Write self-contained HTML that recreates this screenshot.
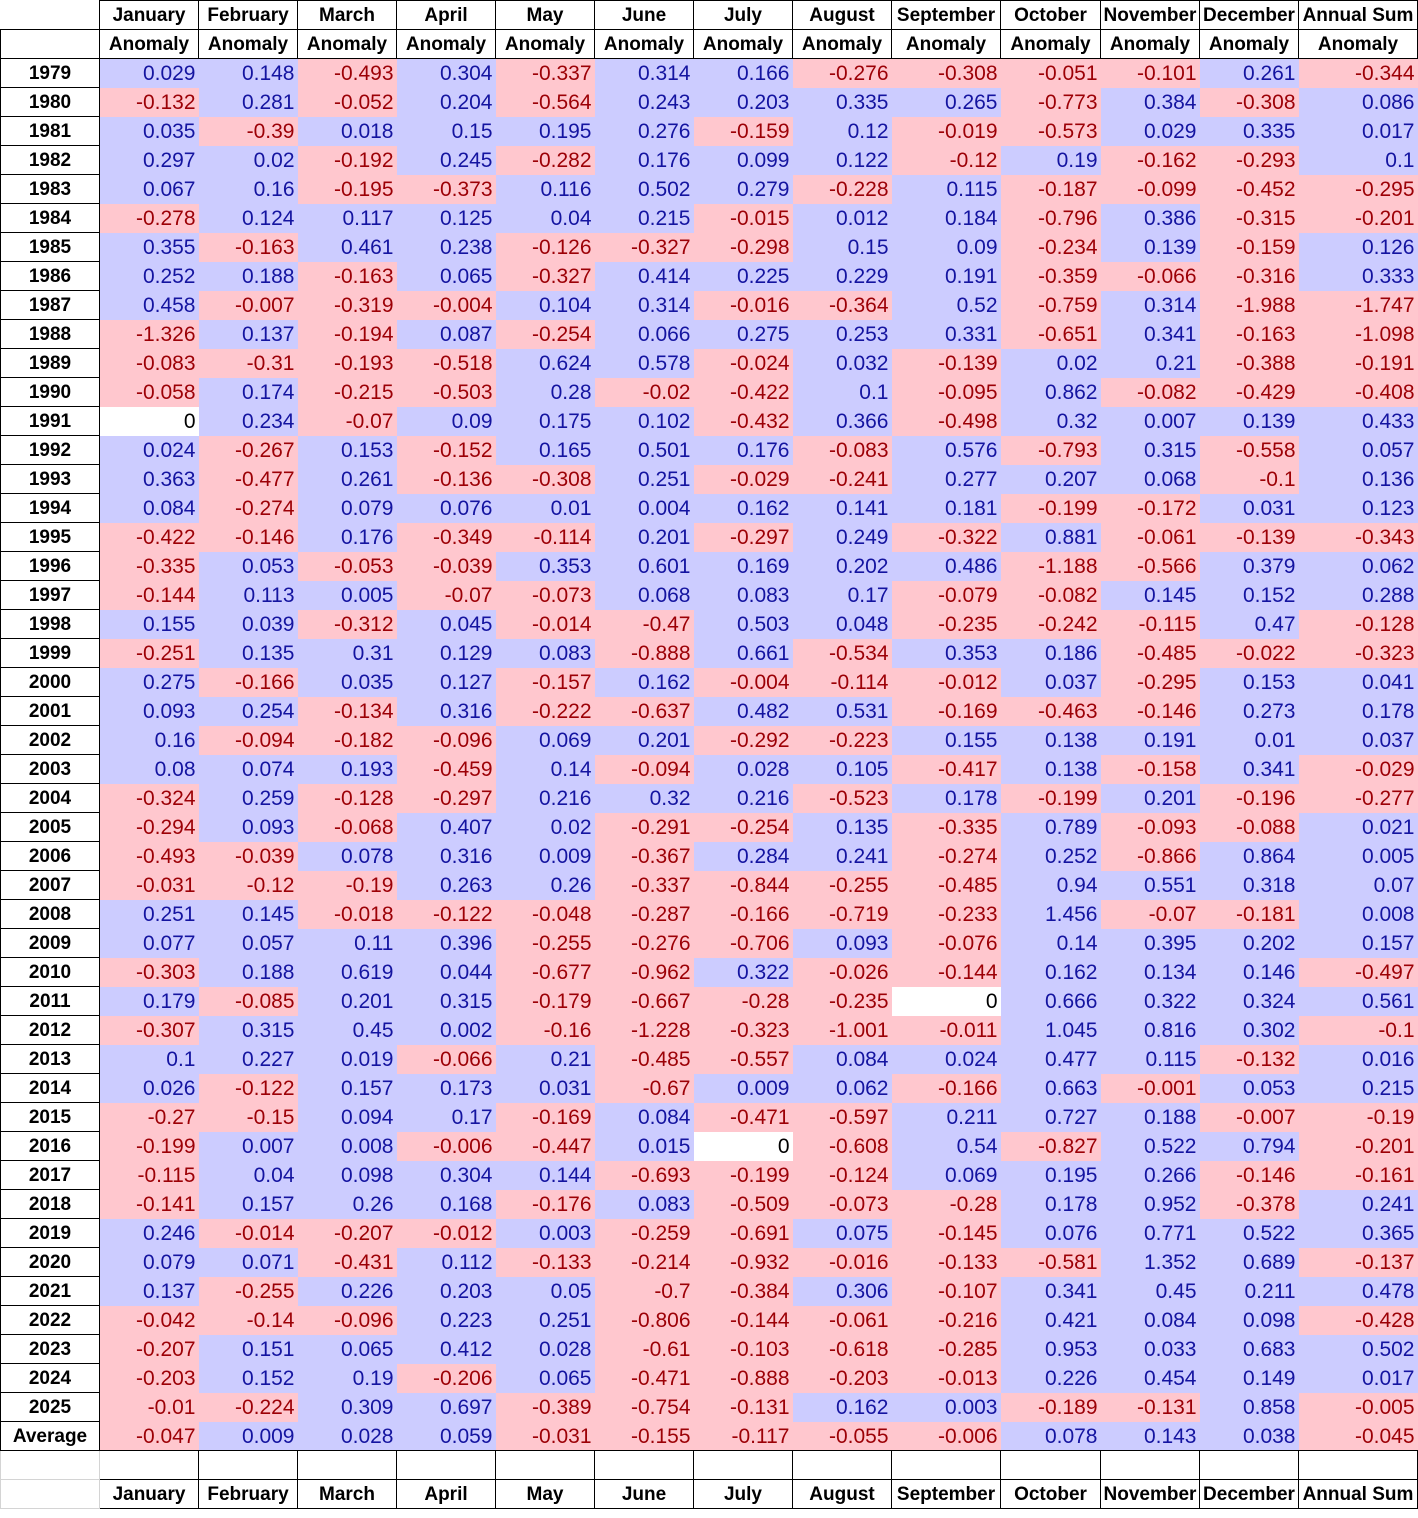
<!DOCTYPE html>
<html><head><meta charset="utf-8"><style>
html,body{margin:0;padding:0;background:#fff;width:1418px;height:1518px;overflow:hidden}
table{border-collapse:collapse;table-layout:fixed;width:1417px;font-family:"Liberation Sans",Arial,sans-serif}
tr{height:29px}
td{padding:2px 3px 0 0;height:26px;text-align:right;font-size:21px;line-height:26px;white-space:nowrap;overflow:hidden}
td.b{background:#ccccff;color:#1414a0}
td.p{background:#ffc7ce;color:#9c0006}
td.w{background:#fff;color:#000}
td.h{border:1px solid #000;text-align:center;font-weight:bold;font-size:19px;padding:2px 0 0 0}
td.y{border:1px solid #000;text-align:center;font-weight:bold;font-size:19px;padding:2px 0 0 0}
td.e{border:1px solid #000;padding:0}
td.g{border:1px solid #d4d4d4;padding:0}
td.n{border:none;border-right:1px solid #000;border-bottom:1px solid #000;padding:0}
</style></head><body>
<table>
<colgroup><col style="width:99px"><col style="width:99px"><col style="width:99px"><col style="width:99px"><col style="width:99px"><col style="width:99px"><col style="width:99px"><col style="width:99px"><col style="width:99px"><col style="width:109px"><col style="width:100px"><col style="width:99px"><col style="width:99px"><col style="width:119px"></colgroup>
<tr><td class="n"></td><td class="h">January</td><td class="h">February</td><td class="h">March</td><td class="h">April</td><td class="h">May</td><td class="h">June</td><td class="h">July</td><td class="h">August</td><td class="h">September</td><td class="h">October</td><td class="h">November</td><td class="h">December</td><td class="h">Annual Sum</td></tr>
<tr><td class="e"></td><td class="h">Anomaly</td><td class="h">Anomaly</td><td class="h">Anomaly</td><td class="h">Anomaly</td><td class="h">Anomaly</td><td class="h">Anomaly</td><td class="h">Anomaly</td><td class="h">Anomaly</td><td class="h">Anomaly</td><td class="h">Anomaly</td><td class="h">Anomaly</td><td class="h">Anomaly</td><td class="h">Anomaly</td></tr>
<tr><td class="y">1979</td><td class="b">0.029</td><td class="b">0.148</td><td class="p">-0.493</td><td class="b">0.304</td><td class="p">-0.337</td><td class="b">0.314</td><td class="b">0.166</td><td class="p">-0.276</td><td class="p">-0.308</td><td class="p">-0.051</td><td class="p">-0.101</td><td class="b">0.261</td><td class="p">-0.344</td></tr>
<tr><td class="y">1980</td><td class="p">-0.132</td><td class="b">0.281</td><td class="p">-0.052</td><td class="b">0.204</td><td class="p">-0.564</td><td class="b">0.243</td><td class="b">0.203</td><td class="b">0.335</td><td class="b">0.265</td><td class="p">-0.773</td><td class="b">0.384</td><td class="p">-0.308</td><td class="b">0.086</td></tr>
<tr><td class="y">1981</td><td class="b">0.035</td><td class="p">-0.39</td><td class="b">0.018</td><td class="b">0.15</td><td class="b">0.195</td><td class="b">0.276</td><td class="p">-0.159</td><td class="b">0.12</td><td class="p">-0.019</td><td class="p">-0.573</td><td class="b">0.029</td><td class="b">0.335</td><td class="b">0.017</td></tr>
<tr><td class="y">1982</td><td class="b">0.297</td><td class="b">0.02</td><td class="p">-0.192</td><td class="b">0.245</td><td class="p">-0.282</td><td class="b">0.176</td><td class="b">0.099</td><td class="b">0.122</td><td class="p">-0.12</td><td class="b">0.19</td><td class="p">-0.162</td><td class="p">-0.293</td><td class="b">0.1</td></tr>
<tr><td class="y">1983</td><td class="b">0.067</td><td class="b">0.16</td><td class="p">-0.195</td><td class="p">-0.373</td><td class="b">0.116</td><td class="b">0.502</td><td class="b">0.279</td><td class="p">-0.228</td><td class="b">0.115</td><td class="p">-0.187</td><td class="p">-0.099</td><td class="p">-0.452</td><td class="p">-0.295</td></tr>
<tr><td class="y">1984</td><td class="p">-0.278</td><td class="b">0.124</td><td class="b">0.117</td><td class="b">0.125</td><td class="b">0.04</td><td class="b">0.215</td><td class="p">-0.015</td><td class="b">0.012</td><td class="b">0.184</td><td class="p">-0.796</td><td class="b">0.386</td><td class="p">-0.315</td><td class="p">-0.201</td></tr>
<tr><td class="y">1985</td><td class="b">0.355</td><td class="p">-0.163</td><td class="b">0.461</td><td class="b">0.238</td><td class="p">-0.126</td><td class="p">-0.327</td><td class="p">-0.298</td><td class="b">0.15</td><td class="b">0.09</td><td class="p">-0.234</td><td class="b">0.139</td><td class="p">-0.159</td><td class="b">0.126</td></tr>
<tr><td class="y">1986</td><td class="b">0.252</td><td class="b">0.188</td><td class="p">-0.163</td><td class="b">0.065</td><td class="p">-0.327</td><td class="b">0.414</td><td class="b">0.225</td><td class="b">0.229</td><td class="b">0.191</td><td class="p">-0.359</td><td class="p">-0.066</td><td class="p">-0.316</td><td class="b">0.333</td></tr>
<tr><td class="y">1987</td><td class="b">0.458</td><td class="p">-0.007</td><td class="p">-0.319</td><td class="p">-0.004</td><td class="b">0.104</td><td class="b">0.314</td><td class="p">-0.016</td><td class="p">-0.364</td><td class="b">0.52</td><td class="p">-0.759</td><td class="b">0.314</td><td class="p">-1.988</td><td class="p">-1.747</td></tr>
<tr><td class="y">1988</td><td class="p">-1.326</td><td class="b">0.137</td><td class="p">-0.194</td><td class="b">0.087</td><td class="p">-0.254</td><td class="b">0.066</td><td class="b">0.275</td><td class="b">0.253</td><td class="b">0.331</td><td class="p">-0.651</td><td class="b">0.341</td><td class="p">-0.163</td><td class="p">-1.098</td></tr>
<tr><td class="y">1989</td><td class="p">-0.083</td><td class="p">-0.31</td><td class="p">-0.193</td><td class="p">-0.518</td><td class="b">0.624</td><td class="b">0.578</td><td class="p">-0.024</td><td class="b">0.032</td><td class="p">-0.139</td><td class="b">0.02</td><td class="b">0.21</td><td class="p">-0.388</td><td class="p">-0.191</td></tr>
<tr><td class="y">1990</td><td class="p">-0.058</td><td class="b">0.174</td><td class="p">-0.215</td><td class="p">-0.503</td><td class="b">0.28</td><td class="p">-0.02</td><td class="p">-0.422</td><td class="b">0.1</td><td class="p">-0.095</td><td class="b">0.862</td><td class="p">-0.082</td><td class="p">-0.429</td><td class="p">-0.408</td></tr>
<tr><td class="y">1991</td><td class="w">0</td><td class="b">0.234</td><td class="p">-0.07</td><td class="b">0.09</td><td class="b">0.175</td><td class="b">0.102</td><td class="p">-0.432</td><td class="b">0.366</td><td class="p">-0.498</td><td class="b">0.32</td><td class="b">0.007</td><td class="b">0.139</td><td class="b">0.433</td></tr>
<tr><td class="y">1992</td><td class="b">0.024</td><td class="p">-0.267</td><td class="b">0.153</td><td class="p">-0.152</td><td class="b">0.165</td><td class="b">0.501</td><td class="b">0.176</td><td class="p">-0.083</td><td class="b">0.576</td><td class="p">-0.793</td><td class="b">0.315</td><td class="p">-0.558</td><td class="b">0.057</td></tr>
<tr><td class="y">1993</td><td class="b">0.363</td><td class="p">-0.477</td><td class="b">0.261</td><td class="p">-0.136</td><td class="p">-0.308</td><td class="b">0.251</td><td class="p">-0.029</td><td class="p">-0.241</td><td class="b">0.277</td><td class="b">0.207</td><td class="b">0.068</td><td class="p">-0.1</td><td class="b">0.136</td></tr>
<tr><td class="y">1994</td><td class="b">0.084</td><td class="p">-0.274</td><td class="b">0.079</td><td class="b">0.076</td><td class="b">0.01</td><td class="b">0.004</td><td class="b">0.162</td><td class="b">0.141</td><td class="b">0.181</td><td class="p">-0.199</td><td class="p">-0.172</td><td class="b">0.031</td><td class="b">0.123</td></tr>
<tr><td class="y">1995</td><td class="p">-0.422</td><td class="p">-0.146</td><td class="b">0.176</td><td class="p">-0.349</td><td class="p">-0.114</td><td class="b">0.201</td><td class="p">-0.297</td><td class="b">0.249</td><td class="p">-0.322</td><td class="b">0.881</td><td class="p">-0.061</td><td class="p">-0.139</td><td class="p">-0.343</td></tr>
<tr><td class="y">1996</td><td class="p">-0.335</td><td class="b">0.053</td><td class="p">-0.053</td><td class="p">-0.039</td><td class="b">0.353</td><td class="b">0.601</td><td class="b">0.169</td><td class="b">0.202</td><td class="b">0.486</td><td class="p">-1.188</td><td class="p">-0.566</td><td class="b">0.379</td><td class="b">0.062</td></tr>
<tr><td class="y">1997</td><td class="p">-0.144</td><td class="b">0.113</td><td class="b">0.005</td><td class="p">-0.07</td><td class="p">-0.073</td><td class="b">0.068</td><td class="b">0.083</td><td class="b">0.17</td><td class="p">-0.079</td><td class="p">-0.082</td><td class="b">0.145</td><td class="b">0.152</td><td class="b">0.288</td></tr>
<tr><td class="y">1998</td><td class="b">0.155</td><td class="b">0.039</td><td class="p">-0.312</td><td class="b">0.045</td><td class="p">-0.014</td><td class="p">-0.47</td><td class="b">0.503</td><td class="b">0.048</td><td class="p">-0.235</td><td class="p">-0.242</td><td class="p">-0.115</td><td class="b">0.47</td><td class="p">-0.128</td></tr>
<tr><td class="y">1999</td><td class="p">-0.251</td><td class="b">0.135</td><td class="b">0.31</td><td class="b">0.129</td><td class="b">0.083</td><td class="p">-0.888</td><td class="b">0.661</td><td class="p">-0.534</td><td class="b">0.353</td><td class="b">0.186</td><td class="p">-0.485</td><td class="p">-0.022</td><td class="p">-0.323</td></tr>
<tr><td class="y">2000</td><td class="b">0.275</td><td class="p">-0.166</td><td class="b">0.035</td><td class="b">0.127</td><td class="p">-0.157</td><td class="b">0.162</td><td class="p">-0.004</td><td class="p">-0.114</td><td class="p">-0.012</td><td class="b">0.037</td><td class="p">-0.295</td><td class="b">0.153</td><td class="b">0.041</td></tr>
<tr><td class="y">2001</td><td class="b">0.093</td><td class="b">0.254</td><td class="p">-0.134</td><td class="b">0.316</td><td class="p">-0.222</td><td class="p">-0.637</td><td class="b">0.482</td><td class="b">0.531</td><td class="p">-0.169</td><td class="p">-0.463</td><td class="p">-0.146</td><td class="b">0.273</td><td class="b">0.178</td></tr>
<tr><td class="y">2002</td><td class="b">0.16</td><td class="p">-0.094</td><td class="p">-0.182</td><td class="p">-0.096</td><td class="b">0.069</td><td class="b">0.201</td><td class="p">-0.292</td><td class="p">-0.223</td><td class="b">0.155</td><td class="b">0.138</td><td class="b">0.191</td><td class="b">0.01</td><td class="b">0.037</td></tr>
<tr><td class="y">2003</td><td class="b">0.08</td><td class="b">0.074</td><td class="b">0.193</td><td class="p">-0.459</td><td class="b">0.14</td><td class="p">-0.094</td><td class="b">0.028</td><td class="b">0.105</td><td class="p">-0.417</td><td class="b">0.138</td><td class="p">-0.158</td><td class="b">0.341</td><td class="p">-0.029</td></tr>
<tr><td class="y">2004</td><td class="p">-0.324</td><td class="b">0.259</td><td class="p">-0.128</td><td class="p">-0.297</td><td class="b">0.216</td><td class="b">0.32</td><td class="b">0.216</td><td class="p">-0.523</td><td class="b">0.178</td><td class="p">-0.199</td><td class="b">0.201</td><td class="p">-0.196</td><td class="p">-0.277</td></tr>
<tr><td class="y">2005</td><td class="p">-0.294</td><td class="b">0.093</td><td class="p">-0.068</td><td class="b">0.407</td><td class="b">0.02</td><td class="p">-0.291</td><td class="p">-0.254</td><td class="b">0.135</td><td class="p">-0.335</td><td class="b">0.789</td><td class="p">-0.093</td><td class="p">-0.088</td><td class="b">0.021</td></tr>
<tr><td class="y">2006</td><td class="p">-0.493</td><td class="p">-0.039</td><td class="b">0.078</td><td class="b">0.316</td><td class="b">0.009</td><td class="p">-0.367</td><td class="b">0.284</td><td class="b">0.241</td><td class="p">-0.274</td><td class="b">0.252</td><td class="p">-0.866</td><td class="b">0.864</td><td class="b">0.005</td></tr>
<tr><td class="y">2007</td><td class="p">-0.031</td><td class="p">-0.12</td><td class="p">-0.19</td><td class="b">0.263</td><td class="b">0.26</td><td class="p">-0.337</td><td class="p">-0.844</td><td class="p">-0.255</td><td class="p">-0.485</td><td class="b">0.94</td><td class="b">0.551</td><td class="b">0.318</td><td class="b">0.07</td></tr>
<tr><td class="y">2008</td><td class="b">0.251</td><td class="b">0.145</td><td class="p">-0.018</td><td class="p">-0.122</td><td class="p">-0.048</td><td class="p">-0.287</td><td class="p">-0.166</td><td class="p">-0.719</td><td class="p">-0.233</td><td class="b">1.456</td><td class="p">-0.07</td><td class="p">-0.181</td><td class="b">0.008</td></tr>
<tr><td class="y">2009</td><td class="b">0.077</td><td class="b">0.057</td><td class="b">0.11</td><td class="b">0.396</td><td class="p">-0.255</td><td class="p">-0.276</td><td class="p">-0.706</td><td class="b">0.093</td><td class="p">-0.076</td><td class="b">0.14</td><td class="b">0.395</td><td class="b">0.202</td><td class="b">0.157</td></tr>
<tr><td class="y">2010</td><td class="p">-0.303</td><td class="b">0.188</td><td class="b">0.619</td><td class="b">0.044</td><td class="p">-0.677</td><td class="p">-0.962</td><td class="b">0.322</td><td class="p">-0.026</td><td class="p">-0.144</td><td class="b">0.162</td><td class="b">0.134</td><td class="b">0.146</td><td class="p">-0.497</td></tr>
<tr><td class="y">2011</td><td class="b">0.179</td><td class="p">-0.085</td><td class="b">0.201</td><td class="b">0.315</td><td class="p">-0.179</td><td class="p">-0.667</td><td class="p">-0.28</td><td class="p">-0.235</td><td class="w">0</td><td class="b">0.666</td><td class="b">0.322</td><td class="b">0.324</td><td class="b">0.561</td></tr>
<tr><td class="y">2012</td><td class="p">-0.307</td><td class="b">0.315</td><td class="b">0.45</td><td class="b">0.002</td><td class="p">-0.16</td><td class="p">-1.228</td><td class="p">-0.323</td><td class="p">-1.001</td><td class="p">-0.011</td><td class="b">1.045</td><td class="b">0.816</td><td class="b">0.302</td><td class="p">-0.1</td></tr>
<tr><td class="y">2013</td><td class="b">0.1</td><td class="b">0.227</td><td class="b">0.019</td><td class="p">-0.066</td><td class="b">0.21</td><td class="p">-0.485</td><td class="p">-0.557</td><td class="b">0.084</td><td class="b">0.024</td><td class="b">0.477</td><td class="b">0.115</td><td class="p">-0.132</td><td class="b">0.016</td></tr>
<tr><td class="y">2014</td><td class="b">0.026</td><td class="p">-0.122</td><td class="b">0.157</td><td class="b">0.173</td><td class="b">0.031</td><td class="p">-0.67</td><td class="b">0.009</td><td class="b">0.062</td><td class="p">-0.166</td><td class="b">0.663</td><td class="p">-0.001</td><td class="b">0.053</td><td class="b">0.215</td></tr>
<tr><td class="y">2015</td><td class="p">-0.27</td><td class="p">-0.15</td><td class="b">0.094</td><td class="b">0.17</td><td class="p">-0.169</td><td class="b">0.084</td><td class="p">-0.471</td><td class="p">-0.597</td><td class="b">0.211</td><td class="b">0.727</td><td class="b">0.188</td><td class="p">-0.007</td><td class="p">-0.19</td></tr>
<tr><td class="y">2016</td><td class="p">-0.199</td><td class="b">0.007</td><td class="b">0.008</td><td class="p">-0.006</td><td class="p">-0.447</td><td class="b">0.015</td><td class="w">0</td><td class="p">-0.608</td><td class="b">0.54</td><td class="p">-0.827</td><td class="b">0.522</td><td class="b">0.794</td><td class="p">-0.201</td></tr>
<tr><td class="y">2017</td><td class="p">-0.115</td><td class="b">0.04</td><td class="b">0.098</td><td class="b">0.304</td><td class="b">0.144</td><td class="p">-0.693</td><td class="p">-0.199</td><td class="p">-0.124</td><td class="b">0.069</td><td class="b">0.195</td><td class="b">0.266</td><td class="p">-0.146</td><td class="p">-0.161</td></tr>
<tr><td class="y">2018</td><td class="p">-0.141</td><td class="b">0.157</td><td class="b">0.26</td><td class="b">0.168</td><td class="p">-0.176</td><td class="b">0.083</td><td class="p">-0.509</td><td class="p">-0.073</td><td class="p">-0.28</td><td class="b">0.178</td><td class="b">0.952</td><td class="p">-0.378</td><td class="b">0.241</td></tr>
<tr><td class="y">2019</td><td class="b">0.246</td><td class="p">-0.014</td><td class="p">-0.207</td><td class="p">-0.012</td><td class="b">0.003</td><td class="p">-0.259</td><td class="p">-0.691</td><td class="b">0.075</td><td class="p">-0.145</td><td class="b">0.076</td><td class="b">0.771</td><td class="b">0.522</td><td class="b">0.365</td></tr>
<tr><td class="y">2020</td><td class="b">0.079</td><td class="b">0.071</td><td class="p">-0.431</td><td class="b">0.112</td><td class="p">-0.133</td><td class="p">-0.214</td><td class="p">-0.932</td><td class="p">-0.016</td><td class="p">-0.133</td><td class="p">-0.581</td><td class="b">1.352</td><td class="b">0.689</td><td class="p">-0.137</td></tr>
<tr><td class="y">2021</td><td class="b">0.137</td><td class="p">-0.255</td><td class="b">0.226</td><td class="b">0.203</td><td class="b">0.05</td><td class="p">-0.7</td><td class="p">-0.384</td><td class="b">0.306</td><td class="p">-0.107</td><td class="b">0.341</td><td class="b">0.45</td><td class="b">0.211</td><td class="b">0.478</td></tr>
<tr><td class="y">2022</td><td class="p">-0.042</td><td class="p">-0.14</td><td class="p">-0.096</td><td class="b">0.223</td><td class="b">0.251</td><td class="p">-0.806</td><td class="p">-0.144</td><td class="p">-0.061</td><td class="p">-0.216</td><td class="b">0.421</td><td class="b">0.084</td><td class="b">0.098</td><td class="p">-0.428</td></tr>
<tr><td class="y">2023</td><td class="p">-0.207</td><td class="b">0.151</td><td class="b">0.065</td><td class="b">0.412</td><td class="b">0.028</td><td class="p">-0.61</td><td class="p">-0.103</td><td class="p">-0.618</td><td class="p">-0.285</td><td class="b">0.953</td><td class="b">0.033</td><td class="b">0.683</td><td class="b">0.502</td></tr>
<tr><td class="y">2024</td><td class="p">-0.203</td><td class="b">0.152</td><td class="b">0.19</td><td class="p">-0.206</td><td class="b">0.065</td><td class="p">-0.471</td><td class="p">-0.888</td><td class="p">-0.203</td><td class="p">-0.013</td><td class="b">0.226</td><td class="b">0.454</td><td class="b">0.149</td><td class="b">0.017</td></tr>
<tr><td class="y">2025</td><td class="p">-0.01</td><td class="p">-0.224</td><td class="b">0.309</td><td class="b">0.697</td><td class="p">-0.389</td><td class="p">-0.754</td><td class="p">-0.131</td><td class="b">0.162</td><td class="b">0.003</td><td class="p">-0.189</td><td class="p">-0.131</td><td class="b">0.858</td><td class="p">-0.005</td></tr>
<tr><td class="y">Average</td><td class="p">-0.047</td><td class="b">0.009</td><td class="b">0.028</td><td class="b">0.059</td><td class="p">-0.031</td><td class="p">-0.155</td><td class="p">-0.117</td><td class="p">-0.055</td><td class="p">-0.006</td><td class="b">0.078</td><td class="b">0.143</td><td class="b">0.038</td><td class="p">-0.045</td></tr>
<tr><td class="g"></td><td class="e"></td><td class="e"></td><td class="e"></td><td class="e"></td><td class="e"></td><td class="e"></td><td class="e"></td><td class="e"></td><td class="e"></td><td class="e"></td><td class="e"></td><td class="e"></td><td class="e"></td></tr>
<tr><td class="g"></td><td class="h">January</td><td class="h">February</td><td class="h">March</td><td class="h">April</td><td class="h">May</td><td class="h">June</td><td class="h">July</td><td class="h">August</td><td class="h">September</td><td class="h">October</td><td class="h">November</td><td class="h">December</td><td class="h">Annual Sum</td></tr>
</table>
</body></html>
